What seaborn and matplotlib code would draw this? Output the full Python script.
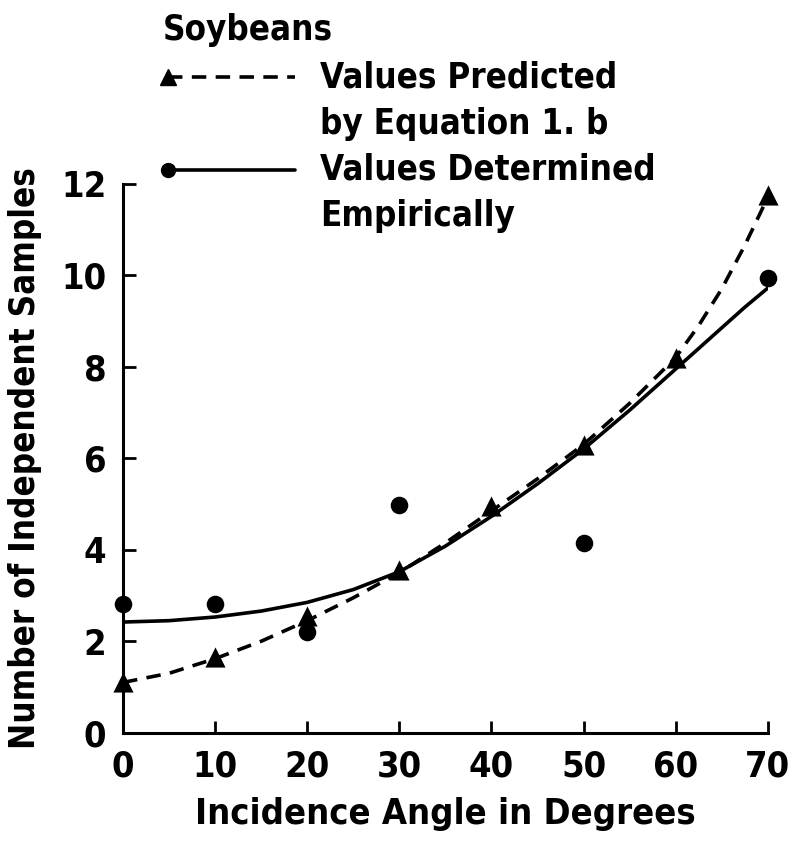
import matplotlib
matplotlib.use("Agg")
import matplotlib.pyplot as plt
from matplotlib.lines import Line2D
import seaborn as sns
import pandas as pd

# Data
angles_pts = [0, 10, 20, 30, 40, 50, 60, 70]
predicted_pts = [1.1, 1.65, 2.55, 3.55, 4.95, 6.3, 8.2, 11.75]
empirical_angles = [0, 10, 20, 30, 50, 70]
empirical_pts = [2.82, 2.81, 2.2, 4.97, 4.15, 9.95]

curve_angles = [0, 5, 10, 15, 20, 25, 30, 35, 40, 45, 50, 55, 60, 62.5, 65, 67.5, 70]
predicted_curve = [1.1, 1.3, 1.62, 2.0, 2.45, 2.95, 3.5, 4.15, 4.85, 5.55, 6.3, 7.2, 8.2,
                   8.9, 9.7, 10.65, 11.7]
empirical_curve = [2.42, 2.45, 2.53, 2.66, 2.85, 3.13, 3.52, 4.08, 4.73, 5.44, 6.2, 7.05,
                   7.95, 8.4, 8.85, 9.3, 9.72]

x_ticks = [0, 10, 20, 30, 40, 50, 60, 70]
y_ticks = [0, 2, 4, 6, 8, 10, 12]

sns.set_style("ticks")
plt.rcParams["font.family"] = ["DejaVu Sans"]
plt.rcParams["font.stretch"] = "condensed"
plt.rcParams["font.weight"] = "bold"
plt.rcParams["axes.labelweight"] = "bold"
plt.rcParams["text.color"] = "black"
plt.rcParams["axes.labelcolor"] = "black"
plt.rcParams["xtick.color"] = "black"
plt.rcParams["ytick.color"] = "black"
plt.rcParams["axes.edgecolor"] = "black"

FS = 25

fig = plt.figure(figsize=(7.89, 8.55), dpi=100)
ax = fig.add_axes([0.156, 0.143, 0.817, 0.642])

df_pc = pd.DataFrame({"x": curve_angles, "y": predicted_curve})
df_ec = pd.DataFrame({"x": curve_angles, "y": empirical_curve})
df_pp = pd.DataFrame({"x": angles_pts, "y": predicted_pts})
df_ep = pd.DataFrame({"x": empirical_angles, "y": empirical_pts})

sns.lineplot(data=df_ec, x="x", y="y", ax=ax, color="black", lw=2.6, sort=True)
sns.lineplot(data=df_pc, x="x", y="y", ax=ax, color="black", lw=2.6, sort=True)
ax.lines[-1].set_dashes((4, 2.6))
sns.scatterplot(data=df_pp, x="x", y="y", ax=ax, marker="^", s=210, color="black",
                edgecolor="black", linewidth=0, clip_on=False, zorder=5)
sns.scatterplot(data=df_ep, x="x", y="y", ax=ax, marker="o", s=160, color="black",
                edgecolor="black", linewidth=0, clip_on=False, zorder=5)

ax.set_xlim(0, 70)
ax.set_ylim(0, 12)
ax.set_xticks(x_ticks)
ax.set_yticks(y_ticks)
ax.set_xticklabels([str(v) for v in x_ticks])
ax.set_yticklabels([str(v) for v in y_ticks])
sns.despine(ax=ax)
for s in ["left", "bottom"]:
    ax.spines[s].set_linewidth(2.2)
ax.tick_params(direction="in", length=9, width=2, labelsize=FS + 1, pad=12)
ax.set_xlabel("Incidence Angle in Degrees", fontsize=FS + 1, labelpad=10)
ax.set_ylabel("Number of Independent Samples", fontsize=FS, labelpad=14)

# Legend drawn manually
def fx(px):
    return px / 789.0

def fy(py):
    return 1 - py / 855.0

fig.text(fx(163), fy(30), "Soybeans", fontsize=FS, va="center", ha="left")
fig.add_artist(Line2D([fx(168), fx(295)], [fy(77), fy(77)], color="black", lw=2.6,
                      dashes=(4, 2.6), transform=fig.transFigure))
fig.add_artist(Line2D([fx(168)], [fy(77)], color="black", marker="^", markersize=11,
                      transform=fig.transFigure))
fig.text(fx(320), fy(77), "Values Predicted", fontsize=FS, va="center", ha="left")
fig.text(fx(320), fy(124), "by Equation 1. b", fontsize=FS, va="center", ha="left")
fig.add_artist(Line2D([fx(168), fx(295)], [fy(170), fy(170)], color="black", lw=2.6,
                      transform=fig.transFigure))
fig.add_artist(Line2D([fx(168)], [fy(170)], color="black", marker="o", markersize=10,
                      transform=fig.transFigure))
fig.text(fx(320), fy(170), "Values Determined", fontsize=FS, va="center", ha="left")
fig.text(fx(320), fy(216), "Empirically", fontsize=FS, va="center", ha="left")

fig.savefig("out.png", dpi=100)
